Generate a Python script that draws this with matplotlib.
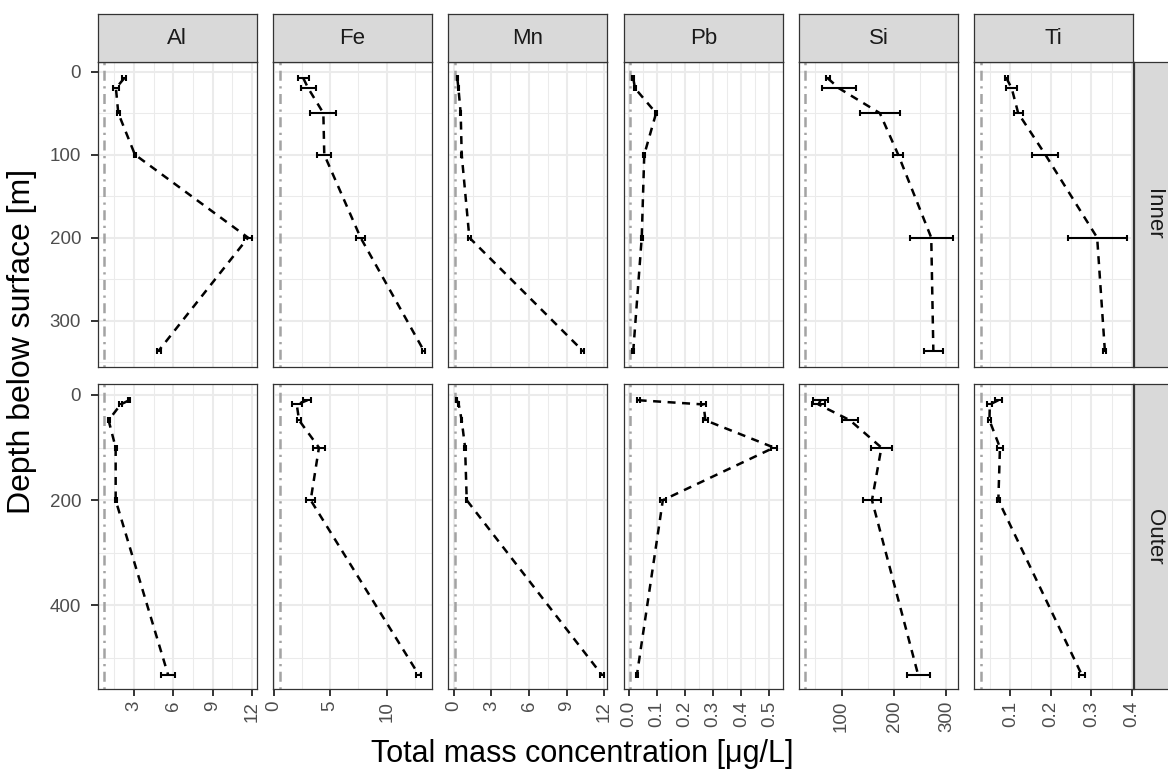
import numpy as np
import matplotlib
matplotlib.use("Agg")
import matplotlib.pyplot as plt

plt.rcParams['font.family'] = ['Liberation Sans', 'DejaVu Sans']

# facet labels
elements = ["Al", "Fe", "Mn", "Pb", "Si", "Ti"]
regions = ["Inner", "Outer"]

# sampling depths [m]
depth_inner = [8, 20, 50, 100, 200, 336]
depth_outer = [10, 18, 48, 100, 200, 532]

# mean total mass concentration [ug/L] and error half widths, per element
inner_conc = {
    "Al": [2.26, 1.63, 1.81, 3.08, 11.71, 4.90],
    "Fe": [2.63, 3.06, 4.40, 4.48, 7.69, 13.27],
    "Mn": [0.29, 0.38, 0.56, 0.64, 1.25, 10.25],
    "Pb": [0.016, 0.022, 0.097, 0.055, 0.046, 0.016],
    "Si": [73.7, 95.0, 173.0, 208.0, 271.0, 275.0],
    "Ti": [0.090, 0.103, 0.119, 0.186, 0.314, 0.333],
}
inner_err = {
    "Al": [0.15, 0.20, 0.12, 0.10, 0.30, 0.15],
    "Fe": [0.50, 0.65, 1.15, 0.60, 0.40, 0.12],
    "Mn": [0.05, 0.05, 0.05, 0.05, 0.10, 0.15],
    "Pb": [0.004, 0.004, 0.005, 0.004, 0.004, 0.004],
    "Si": [4.0, 33.0, 37.6, 10.0, 41.0, 18.5],
    "Ti": [0.004, 0.014, 0.011, 0.032, 0.073, 0.004],
}
outer_conc = {
    "Al": [2.64, 1.99, 1.07, 1.61, 1.61, 5.61],
    "Fe": [2.99, 2.05, 2.25, 4.01, 3.28, 12.83],
    "Mn": [0.25, 0.40, 0.64, 0.91, 1.04, 11.79],
    "Pb": [0.035, 0.266, 0.272, 0.516, 0.121, 0.029],
    "Si": [60.0, 56.0, 116.0, 176.0, 158.0, 246.0],
    "Ti": [0.070, 0.049, 0.048, 0.074, 0.070, 0.276],
}
outer_err = {
    "Al": [0.08, 0.10, 0.08, 0.08, 0.08, 0.52],
    "Fe": [0.35, 0.43, 0.15, 0.51, 0.41, 0.20],
    "Mn": [0.05, 0.05, 0.05, 0.05, 0.05, 0.15],
    "Pb": [0.005, 0.010, 0.010, 0.012, 0.010, 0.005],
    "Si": [14.0, 12.0, 15.0, 20.0, 17.0, 22.0],
    "Ti": [0.008, 0.006, 0.004, 0.008, 0.004, 0.008],
}

# blank / detection level shown as grey dot-dash line
blank_level = [0.74, 0.56, 0.11, 0.004, 30.4, 0.027]

# x axis ticks per element column
x_ticks = [[3, 6, 9, 12], [0, 5, 10], [0, 3, 6, 9, 12],
           [0.0, 0.1, 0.2, 0.3, 0.4, 0.5], [100, 200, 300], [0.1, 0.2, 0.3, 0.4]]
x_tick_labels = [["3", "6", "9", "12"], ["0", "5", "10"], ["0", "3", "6", "9", "12"],
                 ["0.0", "0.1", "0.2", "0.3", "0.4", "0.5"], ["100", "200", "300"],
                 ["0.1", "0.2", "0.3", "0.4"]]

# layout (pixels)
W, H = 1168, 778
col_left = [97.7, 273, 448, 624, 799, 974]
col_w = 159
row_top = [62, 384]
row_h = [305, 305]
strip_top, strip_h = 14, 48

x_lims = [(0.24, 12.37), (-0.05, 14.0), (-0.45, 12.2),
          (-0.017, 0.548), (18.9, 322), (0.0099, 0.4025)]
y_lims = [(355.8, -11.6), (559, -20.9)]
y_ticks = [[0, 100, 200, 300], [0, 200, 400]]

grid_col = "#EBEBEB"
frame_col = "#333333"
tick_col = "#4D4D4D"

fig = plt.figure(figsize=(W / 100, H / 100), dpi=100)


def fig_rect(x, y, w, h):
    return [x / W, 1 - (y + h) / H, w / W, h / H]


for r, region in enumerate(regions):
    depth = depth_inner if r == 0 else depth_outer
    conc = inner_conc if r == 0 else outer_conc
    err = inner_err if r == 0 else outer_err
    for c, el in enumerate(elements):
        ax = fig.add_axes(fig_rect(col_left[c], row_top[r], col_w, row_h[r]))
        ax.set_xlim(*x_lims[c])
        ax.set_ylim(*y_lims[r])

        # minor grid at midpoints between major ticks
        xt = np.array(x_ticks[c], dtype=float)
        step = xt[1] - xt[0]
        xminor = np.arange(xt[0] - step / 2, xt[-1] + step, step)
        yt = np.array(y_ticks[r], dtype=float)
        ystep = yt[1] - yt[0]
        yminor = np.arange(yt[0] - ystep / 2, yt[-1] + ystep, ystep)
        for v in xminor:
            ax.axvline(v, color=grid_col, lw=0.75, zorder=0)
        for v in yminor:
            ax.axhline(v, color=grid_col, lw=0.75, zorder=0)
        for v in xt:
            ax.axvline(v, color=grid_col, lw=1.5, zorder=0)
        for v in yt:
            ax.axhline(v, color=grid_col, lw=1.5, zorder=0)

        ax.axvline(blank_level[c], color="#A3A3A3", lw=1.8,
                   linestyle=(0, (0.9, 2.2, 4.0, 2.2)), zorder=1)

        ax.plot(conc[el], depth, color="black", lw=1.8,
                linestyle=(0, (3.2, 2.6)), zorder=2)
        ax.errorbar(conc[el], depth, xerr=err[el], fmt="none", ecolor="black",
                    elinewidth=1.5, capsize=2.5, capthick=1.5, zorder=3)

        for s in ax.spines.values():
            s.set_color(frame_col)
            s.set_linewidth(0.9)

        ax.set_xticks(x_ticks[c])
        ax.set_yticks(y_ticks[r])
        ax.tick_params(colors=frame_col, width=1.4, length=5,
                       labelcolor=tick_col, labelsize=13.5)
        ax.tick_params(axis="x", pad=3.5)
        ax.tick_params(axis="y", pad=7)
        if r == 1:
            ax.set_xticklabels(x_tick_labels[c], rotation=90)
        else:
            ax.tick_params(axis="x", length=0, labelbottom=False)
        if c > 0:
            ax.tick_params(axis="y", length=0, labelleft=False)

        # strip on top
        if r == 0:
            sax = fig.add_axes(fig_rect(col_left[c], strip_top, col_w, strip_h))
            sax.set_facecolor("#D9D9D9")
            sax.set_xticks([])
            sax.set_yticks([])
            for s in sax.spines.values():
                s.set_color(frame_col)
                s.set_linewidth(0.9)
            sax.text(0.5, 0.5, el, ha="center", va="center", fontsize=16,
                     color="#1A1A1A", transform=sax.transAxes)

    # strip on right
    rax = fig.add_axes(fig_rect(1134, row_top[r], 44, row_h[r]))
    rax.set_facecolor("#D9D9D9")
    rax.set_xticks([])
    rax.set_yticks([])
    for s in rax.spines.values():
        s.set_color(frame_col)
        s.set_linewidth(0.9)
    fig.text(1154 / W, 1 - (row_top[r] + row_h[r] / 2) / H, region, rotation=-90,
             ha="center", va="center", fontsize=16, color="#1A1A1A")

fig.text(582 / W, 1 - 754 / H, "Total mass concentration [\u03bcg/L]",
         ha="center", va="center", fontsize=22)
fig.text(22 / W, 1 - 341 / H, "Depth below surface [m]", rotation=90,
         ha="center", va="center", fontsize=23)

fig.savefig("out.png", dpi=100, facecolor="white")
